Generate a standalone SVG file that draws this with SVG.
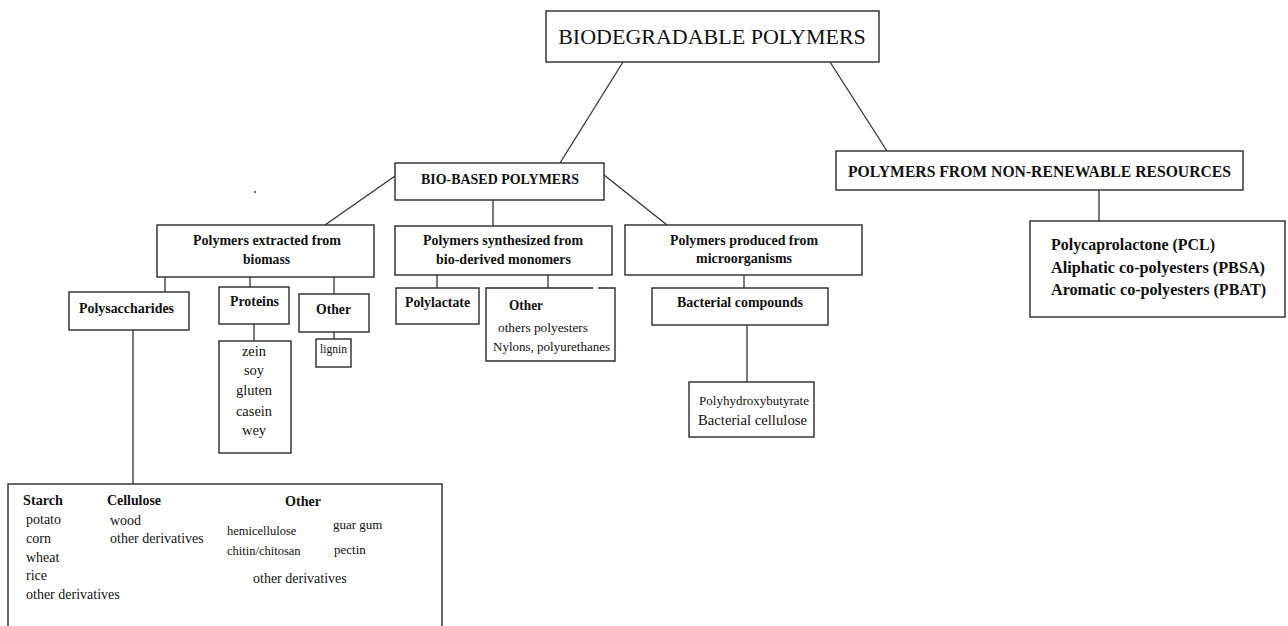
<svg xmlns="http://www.w3.org/2000/svg" width="1288" height="626" viewBox="0 0 1288 626">
<style>
.box{fill:#fff;stroke:#2a2a2a;stroke-width:1.4}
.con{stroke:#333;stroke-width:1.3;fill:none}
text{font-family:"Liberation Serif","Times New Roman",serif;fill:#111}
.b{font-weight:bold}
.c{text-anchor:middle}
</style>
<rect width="1288" height="626" fill="#fff"/>
<g id="connectors">
<line class="con" x1="623" y1="62" x2="560" y2="163"/>
<line class="con" x1="830" y1="62" x2="887" y2="151"/>
<line class="con" x1="1099" y1="190" x2="1099" y2="221"/>
<line class="con" x1="395" y1="176" x2="325" y2="225"/>
<line class="con" x1="493" y1="200" x2="493" y2="226"/>
<line class="con" x1="604" y1="175" x2="667" y2="225"/>
<line class="con" x1="165" y1="277" x2="165" y2="292"/>
<line class="con" x1="250" y1="277" x2="250" y2="287"/>
<line class="con" x1="334" y1="277" x2="334" y2="294"/>
<line class="con" x1="133" y1="330" x2="133" y2="484"/>
<line class="con" x1="254" y1="324" x2="254" y2="341"/>
<line class="con" x1="334" y1="332" x2="334" y2="339"/>
<line class="con" x1="437" y1="275" x2="437" y2="288"/>
<line class="con" x1="548" y1="275" x2="548" y2="288"/>
<line class="con" x1="744" y1="275" x2="744" y2="288"/>
<line class="con" x1="747" y1="325" x2="747" y2="382"/>
</g>
<g id="biodegradable">
<rect class="box" x="546" y="11" width="333" height="51"/>
<text class="c" x="712" y="44" font-size="22">BIODEGRADABLE POLYMERS</text>
</g>
<g id="non-renewable">
<rect class="box" x="836" y="151" width="407" height="39"/>
<text class="b" x="848" y="177" font-size="17" textLength="383" lengthAdjust="spacingAndGlyphs">POLYMERS FROM NON-RENEWABLE RESOURCES</text>
</g>
<g id="pcl">
<rect class="box" x="1030" y="221" width="255" height="96"/>
<text class="b" x="1051" y="250" font-size="17" textLength="164" lengthAdjust="spacingAndGlyphs">Polycaprolactone (PCL)</text>
<text class="b" x="1051" y="273" font-size="17" textLength="214" lengthAdjust="spacingAndGlyphs">Aliphatic co-polyesters (PBSA)</text>
<text class="b" x="1051" y="295" font-size="17" textLength="215" lengthAdjust="spacingAndGlyphs">Aromatic co-polyesters (PBAT)</text>
</g>
<g id="bio-based">
<rect class="box" x="395" y="163" width="209" height="37"/>
<text class="b" x="421" y="184" font-size="15" textLength="158" lengthAdjust="spacingAndGlyphs">BIO-BASED POLYMERS</text>
</g>
<circle cx="255" cy="192" r="1" fill="#333"/>
<g id="extracted">
<rect class="box" x="157" y="225" width="217" height="52"/>
<text class="b" x="193" y="245" font-size="15" textLength="148" lengthAdjust="spacingAndGlyphs">Polymers extracted from</text>
<text class="b" x="243" y="264" font-size="15" textLength="47" lengthAdjust="spacingAndGlyphs">biomass</text>
</g>
<g id="synthesized">
<rect class="box" x="395" y="226" width="217" height="49"/>
<text class="b" x="423" y="245" font-size="15" textLength="160" lengthAdjust="spacingAndGlyphs">Polymers synthesized from</text>
<text class="b" x="436" y="264" font-size="15" textLength="135" lengthAdjust="spacingAndGlyphs">bio-derived monomers</text>
</g>
<g id="microorganisms">
<rect class="box" x="625" y="225" width="237" height="50"/>
<text class="b" x="670" y="245" font-size="15" textLength="148" lengthAdjust="spacingAndGlyphs">Polymers produced from</text>
<text class="b" x="696" y="263" font-size="15" textLength="96" lengthAdjust="spacingAndGlyphs">microorganisms</text>
</g>
<g id="polysaccharides">
<rect class="box" x="69" y="292" width="120" height="38"/>
<text class="b" x="79" y="313" font-size="15" textLength="95" lengthAdjust="spacingAndGlyphs">Polysaccharides</text>
</g>
<g id="proteins">
<rect class="box" x="219" y="287" width="70" height="37"/>
<text class="b" x="230" y="306" font-size="15" textLength="49" lengthAdjust="spacingAndGlyphs">Proteins</text>
</g>
<g id="protein-list">
<rect class="box" x="219" y="341" width="72" height="112"/>
<text class="c" x="254" y="356" font-size="14.5">zein</text>
<text class="c" x="254" y="375" font-size="14.5">soy</text>
<text class="c" x="254" y="395" font-size="14.5">gluten</text>
<text class="c" x="254" y="416" font-size="14.5">casein</text>
<text class="c" x="254" y="435" font-size="14.5">wey</text>
</g>
<g id="other-biomass">
<rect class="box" x="299" y="294" width="70" height="38"/>
<text class="b" x="316" y="314" font-size="15" textLength="35" lengthAdjust="spacingAndGlyphs">Other</text>
</g>
<g id="lignin">
<rect class="box" x="316" y="339" width="35" height="28"/>
<text x="320" y="353" font-size="11.5" textLength="27" lengthAdjust="spacingAndGlyphs">lignin</text>
</g>
<g id="polylactate">
<rect class="box" x="396" y="288" width="83" height="36"/>
<text class="b" x="405" y="307" font-size="15" textLength="65" lengthAdjust="spacingAndGlyphs">Polylactate</text>
</g>
<g id="other-synth">
<path class="box" d="M593,288 H486 V361 H615 V288 H598"/>
<text class="b" x="509" y="310" font-size="15" textLength="34" lengthAdjust="spacingAndGlyphs">Other</text>
<text x="498" y="332" font-size="13.5" textLength="90" lengthAdjust="spacingAndGlyphs">others polyesters</text>
<text x="493" y="351" font-size="13.5" textLength="117" lengthAdjust="spacingAndGlyphs">Nylons, polyurethanes</text>
</g>
<g id="bacterial-compounds">
<rect class="box" x="652" y="288" width="176" height="37"/>
<text class="b" x="677" y="307" font-size="15" textLength="126" lengthAdjust="spacingAndGlyphs">Bacterial compounds</text>
</g>
<g id="bacterial-products">
<rect class="box" x="689" y="382" width="125" height="55"/>
<text x="699" y="405" font-size="13" textLength="110" lengthAdjust="spacingAndGlyphs">Polyhydroxybutyrate</text>
<text x="698" y="425" font-size="14" textLength="109" lengthAdjust="spacingAndGlyphs">Bacterial cellulose</text>
</g>
<g id="polysaccharide-list">
<rect class="box" x="8" y="484" width="434" height="160"/>
<text class="b" x="23" y="505" font-size="15" textLength="40" lengthAdjust="spacingAndGlyphs">Starch</text>
<text x="26" y="524" font-size="14">potato</text>
<text x="26" y="543" font-size="14">corn</text>
<text x="26" y="562" font-size="14">wheat</text>
<text x="26" y="580" font-size="14">rice</text>
<text x="26" y="599" font-size="14">other derivatives</text>
<text class="b" x="107" y="505" font-size="15" textLength="54" lengthAdjust="spacingAndGlyphs">Cellulose</text>
<text x="110" y="525" font-size="14">wood</text>
<text x="110" y="543" font-size="14">other derivatives</text>
<text class="b" x="285" y="506" font-size="15" textLength="36" lengthAdjust="spacingAndGlyphs">Other</text>
<text x="227" y="535" font-size="12.5">hemicellulose</text>
<text x="227" y="555" font-size="12.5">chitin/chitosan</text>
<text x="333" y="529" font-size="13">guar gum</text>
<text x="334" y="554" font-size="13">pectin</text>
<text x="253" y="583" font-size="14">other derivatives</text>
</g>
</svg>
